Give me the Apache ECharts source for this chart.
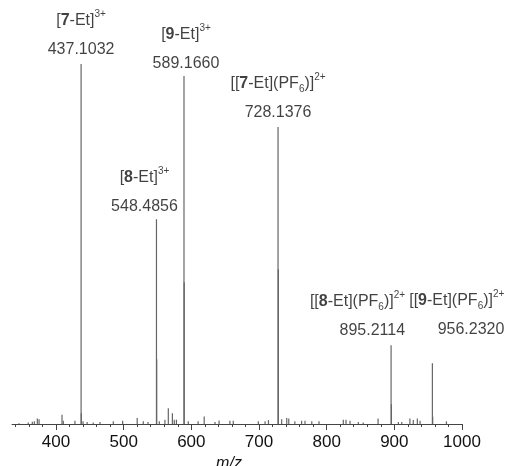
<!DOCTYPE html>
<html><head><meta charset="utf-8">
<script src="https://cdn.jsdelivr.net/npm/echarts@6/dist/echarts.min.js"></script>
<style>html,body{margin:0;padding:0;background:#fff}#c{width:505px;height:466px}</style>
</head><body><div id="c"></div>
<script>
// Main labelled peaks (m/z, relative intensity)
const peakMz  = [437.1032, 548.4856, 589.1660, 728.1376, 895.2114, 956.2320];
const peakInt = [100, 56.9, 96.7, 82.5, 21.9, 16.9];
const peakNames = [
  '{t|[}{b|7}{t|-Et]}{sup|3+}',
  '{t|[}{b|8}{t|-Et]}{sup|3+}',
  '{t|[}{b|9}{t|-Et]}{sup|3+}',
  '{t|[[}{b|7}{t|-Et](PF}{sub|6}{t|)]}{sup|2+}',
  '{t|[[}{b|8}{t|-Et](PF}{sub|6}{t|)]}{sup|2+}',
  '{t|[[}{b|9}{t|-Et](PF}{sub|6}{t|)]}{sup|2+}'
];
const peakLabels = ['437.1032', '548.4856', '589.1660', '728.1376', '895.2114', '956.2320'];
// isotope companions of the main peaks
const isoMz  = [437.44, 548.82, 589.50, 728.64, 895.71, 956.73];
const isoInt = [3, 18, 39.4, 43, 5.5, 2.0];
// small background peaks
const noiseMz  = [345.3, 359, 365, 368, 372.4, 375, 408.9, 410.8, 428, 440, 446, 455, 465, 484.7, 498.5, 520, 529, 536, 552.7, 561,
                  566, 572, 574.8, 578, 595.5, 610, 619, 635, 641, 657, 662, 699, 709, 714, 733.5, 741, 744, 753, 763, 768, 778, 788.7,
                  824.6, 828.6, 834.5, 846.8, 854, 876, 906, 911, 923, 928, 934, 938, 977];
const noiseInt = [0.2, 0.4, 0.6, 0.75, 1.5, 1.3, 2.6, 0.9, 0.9, 0.75, 0.55, 0.4, 0.55, 0.75, 0.9, 1.7, 0.75, 0.55, 0.75, 1.2,
                  4.4, 3.0, 1.2, 1.2, 0.75, 0.75, 2.1, 0.55, 1.0, 0.9, 0.9, 0.75, 0.75, 1.1, 1.3, 1.7, 1.5, 0.75, 0.9, 0.9, 0.75, 0.75,
                  1.2, 1.2, 0.9, 0.55, 0.4, 1.5, 0.55, 0.55, 1.5, 1.1, 1.5, 0.9, 0.75];
const xTicks = [400, 500, 600, 700, 800, 900, 1000];
const xMinorTicks = [340, 360, 380, 420, 440, 460, 480, 520, 540, 560, 580, 620, 640, 660, 680, 720, 740, 760, 780, 820, 840, 860, 880, 920, 940, 960, 980];

// label layout (pixel offsets and alignment)
const labelOffsetX = [0, -12, 2, 0, 14, 72];
const labelOffsetY = [4, 6, 6, 4, 4, -15];
const labelAlign   = ['center', 'center', 'center', 'center', 'right', 'right'];

const sticks = [];
peakMz.forEach((m, i) => sticks.push([m, peakInt[i]]));
isoMz.forEach((m, i) => sticks.push([m, isoInt[i]]));
noiseMz.forEach((m, i) => sticks.push([m, noiseInt[i]]));

const font = 'Liberation Sans, Arial, sans-serif';
const rich = {
  t:   {fontSize: 16, fontFamily: font, color: '#111', lineHeight: 22},
  b:   {fontSize: 16, fontFamily: font, color: '#111', fontWeight: 'bold', lineHeight: 22},
  sup: {fontSize: 10, fontFamily: font, color: '#111', lineHeight: 14, verticalAlign: 'top'},
  sub: {fontSize: 10, fontFamily: font, color: '#111', lineHeight: 14, verticalAlign: 'bottom'},
  n:   {fontSize: 16, fontFamily: font, color: '#111', lineHeight: 36}
};

const chart = echarts.init(document.getElementById('c'), null, {renderer: 'canvas'});
chart.setOption({
  animation: false,
  backgroundColor: '#fff',
  grid: {left: 12, right: 43, top: 64, bottom: 42, containLabel: false, outerBoundsMode: 'none'},
  xAxis: [{
    type: 'value', min: 335, max: 1000,
    splitLine: {show: false},
    axisLine: {show: true, lineStyle: {color: '#444', width: 1}},
    axisTick: {show: true, customValues: xTicks, length: 6, lineStyle: {color: '#444'}},
    axisLabel: {customValues: xTicks, formatter: v => String(v), fontSize: 17, fontFamily: font, color: '#111', margin: 10},
    name: 'm/z', nameLocation: 'middle', nameGap: 30,
    nameTextStyle: {fontSize: 16, fontFamily: font, fontStyle: 'italic', color: '#111', padding: [0, 16, 0, 0]}
  }, {
    type: 'value', min: 335, max: 1000, position: 'bottom',
    splitLine: {show: false},
    axisLine: {show: false},
    axisTick: {show: true, customValues: xMinorTicks, length: 3, lineStyle: {color: '#444'}},
    axisLabel: {show: false}
  }],
  yAxis: {type: 'value', min: 0, max: 100, show: false},
  series: [{
    type: 'custom',
    xAxisIndex: 0,
    data: sticks,
    encode: {x: 0, y: 1},
    renderItem: (params, api) => {
      const p0 = api.coord([api.value(0), 0]);
      const p1 = api.coord([api.value(0), api.value(1)]);
      return {type: 'line', shape: {x1: p0[0], y1: p0[1], x2: p1[0], y2: p1[1]},
              style: {stroke: '#666', lineWidth: 1.2}};
    }
  }, {
    type: 'scatter',
    xAxisIndex: 0,
    symbolSize: 1,
    itemStyle: {color: 'rgba(0,0,0,0)'},
    data: peakMz.map((m, i) => ({
      value: [m, peakInt[i]],
      label: {offset: [labelOffsetX[i], labelOffsetY[i]], align: labelAlign[i]}
    })),
    label: {
      show: true, position: 'top', distance: 0, align: 'center',
      formatter: p => peakNames[p.dataIndex] + '\n{n|' + peakLabels[p.dataIndex] + '}',
      rich: rich
    }
  }]
});
</script></body></html>
